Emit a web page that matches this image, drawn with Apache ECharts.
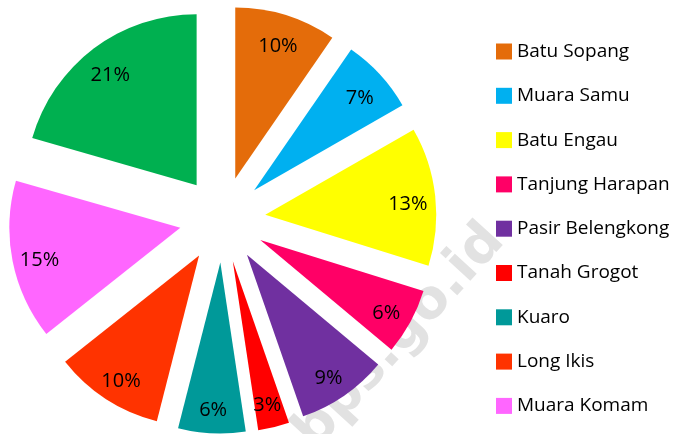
<!DOCTYPE html>
<html>
<head>
<meta charset="utf-8">
<script src="https://cdn.jsdelivr.net/npm/echarts@6/dist/echarts.min.js"></script>
<style>html,body{margin:0;padding:0;background:#fff}#c{width:675px;height:434px}</style>
</head>
<body>
<div id="c"></div>
<script>
const categories = ['Batu Sopang','Muara Samu','Batu Engau','Tanjung Harapan','Pasir Belengkong','Tanah Grogot','Kuaro','Long Ikis','Muara Komam','Long Kali'];
const values = [9.6, 7.1, 13.1, 6.25, 8.6, 2.95, 6.35, 10.35, 15.1, 20.55];
const colors = ['#E46C0A','#00B0F0','#FFFF00','#FF0066','#7030A0','#FF0000','#009999','#FF3300','#FF66FF','#00B050'];
const legendNames = categories.slice(0, 9);

const chart = echarts.init(document.getElementById('c'), null, {renderer: 'canvas'});
const center = [222.5, 219.5];
const R = 171;
const offset = 43;
const fontFam = '"Open Sans", "Liberation Sans", sans-serif';

const colored = categories.map((n, i) => ({name: n, value: values[i], selected: true, itemStyle: {color: colors[i]}}));
const labelsData = categories.map((n, i) => ({name: n, value: values[i], selected: true}));

chart.setOption({
  animation: false,
  graphic: [{
    type: 'text',
    z: -10,
    x: 400, y: 337,
    rotation: 47.6 * Math.PI / 180,
    style: {
      text: 'bps.go.id',
      font: 'bold 54px "DejaVu Sans", sans-serif',
      fill: '#e2e2e2',
      align: 'center',
      verticalAlign: 'middle'
    }
  }],
  legend: {
    orient: 'vertical',
    left: 491,
    top: 37,
    data: legendNames,
    icon: 'rect',
    itemWidth: 16,
    itemHeight: 16,
    itemGap: 25.3,
    selectedMode: false,
    textStyle: {fontFamily: fontFam, fontSize: 19, color: '#000'}
  },
  series: [
    {
      type: 'pie',
      center: center,
      radius: [0, R],
      startAngle: 90,
      clockwise: true,
      selectedMode: 'multiple',
      selectedOffset: offset,
      silent: true,
      label: {show: false},
      labelLine: {show: false},
      emphasis: {disabled: true},
      data: colored
    },
    {
      type: 'pie',
      center: center,
      radius: [110, R],
      startAngle: 90,
      clockwise: true,
      selectedMode: 'multiple',
      selectedOffset: offset,
      silent: true,
      itemStyle: {color: 'rgba(0,0,0,0)'},
      label: {
        show: true,
        position: 'inside',
        formatter: p => '{s|}\n{v|' + Math.round(p.percent) + '%}',
        rich: {
          s: {lineHeight: 10, fontSize: 10},
          v: {fontFamily: fontFam, fontSize: 20, color: '#000', lineHeight: 26}
        }
      },
      labelLine: {show: false},
      emphasis: {disabled: true},
      data: labelsData
    }
  ]
});
</script>
</body>
</html>
